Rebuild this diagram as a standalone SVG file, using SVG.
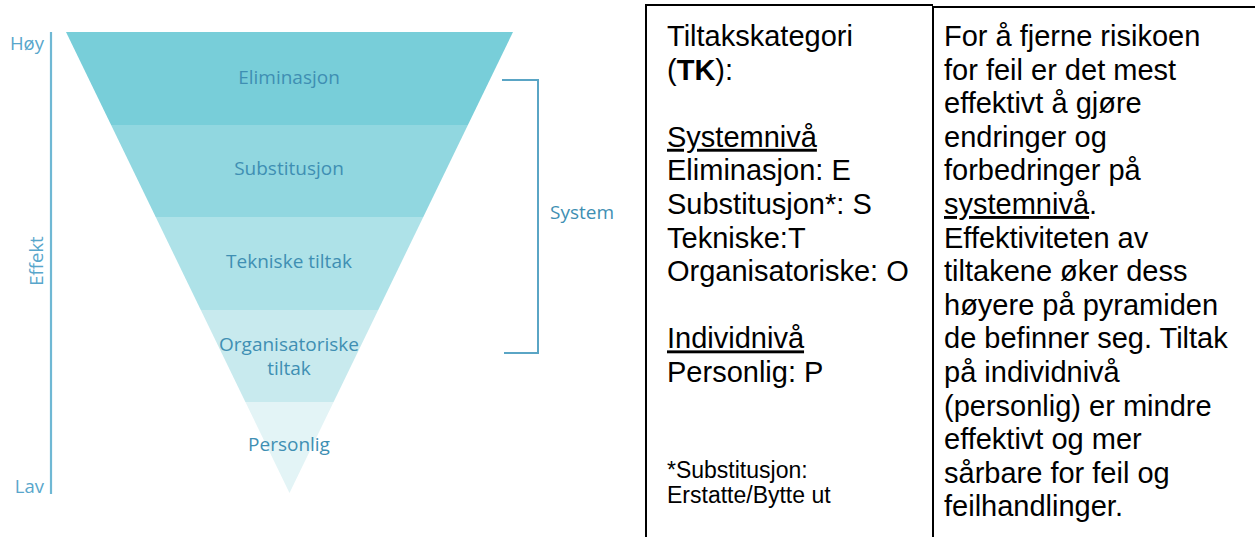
<svg xmlns="http://www.w3.org/2000/svg" width="1255" height="537" viewBox="0 0 1255 537">
<style>
.pl{font-family:"Open Sans","Noto Sans",sans-serif;font-size:19px;fill:#3f8fb3;text-anchor:middle}
.ax{font-family:"Open Sans","Noto Sans",sans-serif;font-size:18.5px;fill:#58a6cb}
.tx{font-family:"Liberation Sans",Arial,sans-serif;font-size:29px;fill:#000}
.sm{font-family:"Liberation Sans",Arial,sans-serif;font-size:23px;fill:#000}
.u{text-decoration:underline}
.bd{stroke:#000;stroke-width:2;fill:none}
</style>
<rect width="1255" height="537" fill="#fff"/>
<g id="pyramid">
<g id="eliminasjon"><polygon points="66,32 513,32 467.9,125 111.1,125" fill="#78ced9"/><text class="pl" x="289" y="84">Eliminasjon</text></g>
<g id="substitusjon"><polygon points="111.1,125 467.9,125 423.3,217 155.7,217" fill="#91d7e0"/><text class="pl" x="289" y="175">Substitusjon</text></g>
<g id="tekniske"><polygon points="155.7,217 423.3,217 378.2,310 200.8,310" fill="#aee2e8"/><text class="pl" x="289" y="268">Tekniske tiltak</text></g>
<g id="organisatoriske"><polygon points="200.8,310 378.2,310 333.6,402 245.4,402" fill="#c8eaee"/><text class="pl" x="289" y="351">Organisatoriske</text><text class="pl" x="289" y="375">tiltak</text></g>
<g id="personlig"><polygon points="245.4,402 333.6,402 289.5,493" fill="#e3f4f6"/><text class="pl" x="289" y="451">Personlig</text></g>
</g>
<g id="axis">
<line x1="51" y1="32" x2="51" y2="494" stroke="#6fb8d4" stroke-width="2.2"/>
<text class="ax" x="44" y="50" text-anchor="end">Høy</text>
<text class="ax" x="44" y="493" text-anchor="end">Lav</text>
<text class="ax" transform="translate(43,261) rotate(-90)" text-anchor="middle">Effekt</text>
</g>
<g id="connectors">
<polyline points="502,80 538,80 538,353 504,353" fill="none" stroke="#5aa5c5" stroke-width="2"/>
</g>
<g id="system-label"><text class="pl" x="582" y="219">System</text></g>
<g id="table">
<path class="bd" d="M646,537 V5 H933"/>
<path class="bd" d="M933,537 V7 H1255"/>
</g>
<g id="left-cell">
<text class="tx" x="667" y="46">Tiltakskategori</text>
<text class="tx" x="667" y="79.6">(<tspan font-weight="bold">TK</tspan>):</text>
<text class="tx u" x="667" y="146.8">Systemnivå</text>
<text class="tx" x="667" y="180.4">Eliminasjon: E</text>
<text class="tx" x="667" y="214">Substitusjon*: S</text>
<text class="tx" x="667" y="247.6">Tekniske:T</text>
<text class="tx" x="667" y="281.2">Organisatoriske: O</text>
<text class="tx u" x="667" y="348.4">Individnivå</text>
<text class="tx" x="667" y="382">Personlig: P</text>
<text class="sm" x="667" y="478">*Substitusjon:</text>
<text class="sm" x="667" y="503">Erstatte/Bytte ut</text>
</g>
<g id="right-cell">
<text class="tx" x="944" y="46">For å fjerne risikoen</text>
<text class="tx" x="944" y="79.6">for feil er det mest</text>
<text class="tx" x="944" y="113.2">effektivt å gjøre</text>
<text class="tx" x="944" y="146.8">endringer og</text>
<text class="tx" x="944" y="180.4">forbedringer på</text>
<text class="tx" x="944" y="214"><tspan class="u">systemnivå</tspan>.</text>
<text class="tx" x="944" y="247.6">Effektiviteten av</text>
<text class="tx" x="944" y="281.2">tiltakene øker dess</text>
<text class="tx" x="944" y="314.8">høyere på pyramiden</text>
<text class="tx" x="944" y="348.4">de befinner seg. Tiltak</text>
<text class="tx" x="944" y="382">på individnivå</text>
<text class="tx" x="944" y="415.6">(personlig) er mindre</text>
<text class="tx" x="944" y="449.2">effektivt og mer</text>
<text class="tx" x="944" y="482.8">sårbare for feil og</text>
<text class="tx" x="944" y="516.4">feilhandlinger.</text>
</g>
</svg>
